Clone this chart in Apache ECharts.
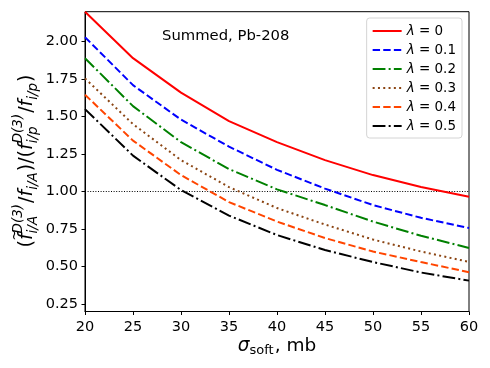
<!DOCTYPE html>
<html>
<head>
<meta charset="utf-8">
<script src="https://cdn.jsdelivr.net/npm/echarts@6/dist/echarts.min.js"></script>
<style>
  html, body { margin: 0; padding: 0; background: #fff; }
  #chart { width: 490px; height: 368px; }
</style>
</head>
<body>
<div id="chart"></div>
<script>
// sigma_soft, mb
const sigma = [20, 25, 30, 35, 40, 45, 50, 55, 60];

// ratio curves for each lambda
const lam0 = [2.20, 1.89, 1.66, 1.47, 1.33, 1.21, 1.11, 1.03, 0.965];
const lam01 = [2.03, 1.71, 1.48, 1.30, 1.145, 1.02, 0.91, 0.825, 0.757];
const lam02 = [1.89, 1.57, 1.33, 1.15, 1.015, 0.91, 0.80, 0.705, 0.624];
const lam03 = [1.755, 1.45, 1.21, 1.03, 0.89, 0.78, 0.68, 0.60, 0.531];
const lam04 = [1.646, 1.34, 1.11, 0.93, 0.80, 0.69, 0.60, 0.53, 0.462];
const lam05 = [1.55, 1.24, 1.01, 0.84, 0.71, 0.61, 0.53, 0.46, 0.406];

const lambdaNames = ['0', '0.1', '0.2', '0.3', '0.4', '0.5'];
const yTicks = [0.25, 0.50, 0.75, 1.00, 1.25, 1.50, 1.75, 2.00];
const refLine = 1.0;

const FONT = 'DejaVu Sans';
const lw = 2;

// matplotlib-like line styles: r-, b--, g-., brown :, orangered --, k-.
const styles = [
  { color: '#ff0000', type: 'solid' },
  { color: '#0000ff', type: [7.4, 3.2] },
  { color: '#008000', type: [12.8, 3.2, 2, 3.2] },
  { color: '#8b4513', type: [2, 3.3] },
  { color: '#ff4500', type: [7.4, 3.2] },
  { color: '#000000', type: [12.8, 3.2, 2, 3.2] }
];

const allValues = [lam0, lam01, lam02, lam03, lam04, lam05];

const series = allValues.map((vals, k) => ({
  name: lambdaNames[k],
  type: 'line',
  symbol: 'none',
  z: 10 - k,
  data: sigma.map((s, i) => [s, vals[i]]),
  lineStyle: { color: styles[k].color, width: lw, type: styles[k].type, cap: 'butt' },
  itemStyle: { color: styles[k].color }
}));

// dotted reference line at 1
series.push({
  type: 'line',
  symbol: 'none',
  silent: true,
  data: [],
  markLine: {
    silent: true,
    symbol: 'none',
    label: { show: false },
    lineStyle: { color: '#000', width: 1, type: [1, 1.6] },
    data: [{ yAxis: refLine }]
  }
});

// text measuring for the math titles
const ctx = document.createElement('canvas').getContext('2d');
function textW(t, font) {
  ctx.font = font;
  return ctx.measureText(t).width;
}

function mathGroup(pieces, big, small, supOff, subOff) {
  const children = [];
  let cur = 0;
  pieces.forEach(p => {
    if (p.t) {
      const st = p.it ? 'italic' : 'normal';
      const w = textW(p.t, st + ' ' + big + 'px "' + FONT + '"');
      children.push({
        type: 'text', x: cur, y: 0,
        style: { text: p.t, fontSize: big, fontFamily: FONT, fontStyle: st, fill: '#000', align: 'left', verticalAlign: 'middle' }
      });
      if (p.acc) {
        children.push({
          type: 'text', x: cur + w * 0.75, y: -big * 0.62,
          style: { text: p.acc, fontSize: small, fontFamily: FONT, fill: '#000', align: 'center', verticalAlign: 'middle' }
        });
      }
      cur += w;
    } else {
      let w = 0;
      if (p.sup) {
        children.push({
          type: 'text', x: cur, y: supOff,
          style: { text: p.sup, fontSize: small, fontFamily: FONT, fontStyle: 'italic', fill: '#000', align: 'left', verticalAlign: 'middle' }
        });
        w = Math.max(w, textW(p.sup, 'italic ' + small + 'px "' + FONT + '"'));
      }
      if (p.sub) {
        children.push({
          type: 'text', x: cur, y: subOff,
          style: { text: p.sub, fontSize: small, fontFamily: FONT, fontStyle: p.subIt === false ? 'normal' : 'italic', fill: '#000', align: 'left', verticalAlign: 'middle' }
        });
        w = Math.max(w, textW(p.sub, 'italic ' + small + 'px "' + FONT + '"'));
      }
      cur += w + 1;
    }
  });
  return { children, width: cur };
}

const yTitle = mathGroup([
  { t: '(' }, { t: 'f', it: true, acc: '~' }, { sup: 'D(3)', sub: 'i/A' },
  { t: '/' }, { t: 'f', it: true }, { sub: 'i/A' }, { t: ')' },
  { t: '/' },
  { t: '(' }, { t: 'f', it: true }, { sup: 'D(3)', sub: 'i/p' },
  { t: '/' }, { t: 'f', it: true }, { sub: 'i/p' }, { t: ')' }
], 19, 13.5, -9, 6);

const xTitle = mathGroup([
  { t: '\u03c3', it: true }, { sub: 'soft', subIt: false }, { t: ', mb' }
], 18.5, 13, -8, 5);

const chart = echarts.init(document.getElementById('chart'));

chart.setOption({
  animation: false,
  backgroundColor: '#fff',
  grid: {
    left: 85, right: 21, top: 11.7, bottom: 56.5,
    show: true, borderColor: '#000', borderWidth: 1
  },
  legend: {
    orient: 'vertical',
    right: 28, top: 18,
    padding: [6, 6, 5, 5],
    itemGap: 5,
    itemWidth: 29, itemHeight: 14,
    itemStyle: { opacity: 0 },
    backgroundColor: '#fff',
    borderColor: '#d4d4d4', borderWidth: 1, borderRadius: 3,
    data: lambdaNames,
    formatter: n => '{it|\u03bb} = ' + n,
    textStyle: {
      fontFamily: FONT, fontSize: 13.5, color: '#000',
      rich: { it: { fontFamily: FONT, fontSize: 13.5, fontStyle: 'italic', color: '#000' } }
    }
  },
  xAxis: {
    type: 'value',
    min: 20, max: 60, interval: 5,
    axisLine: { show: true, lineStyle: { color: '#000', width: 1 } },
    axisTick: { show: true, inside: false, length: 3.5, lineStyle: { color: '#000' } },
    axisLabel: { color: '#000', fontFamily: FONT, fontSize: 14.5, margin: 8 },
    splitLine: { show: false }
  },
  yAxis: {
    type: 'value',
    min: 0.2, max: 2.2,
    axisLine: { show: true, lineStyle: { color: '#000', width: 1 } },
    axisTick: { show: true, inside: false, length: 3.5, customValues: yTicks, lineStyle: { color: '#000' } },
    axisLabel: { color: '#000', fontFamily: FONT, fontSize: 14.5, margin: 7, customValues: yTicks, formatter: v => v.toFixed(2) },
    splitLine: { show: false }
  },
  graphic: [
    {
      type: 'text', left: 162, top: 29,
      style: { text: 'Summed, Pb-208', fontFamily: FONT, fontSize: 14.8, fill: '#000' }
    },
    {
      type: 'group', x: 27, y: 161 + yTitle.width / 2, rotation: Math.PI / 2,
      children: yTitle.children
    },
    {
      type: 'group', x: 277 - xTitle.width / 2, y: 346,
      children: xTitle.children
    }
  ],
  series: series
});
</script>
</body>
</html>
